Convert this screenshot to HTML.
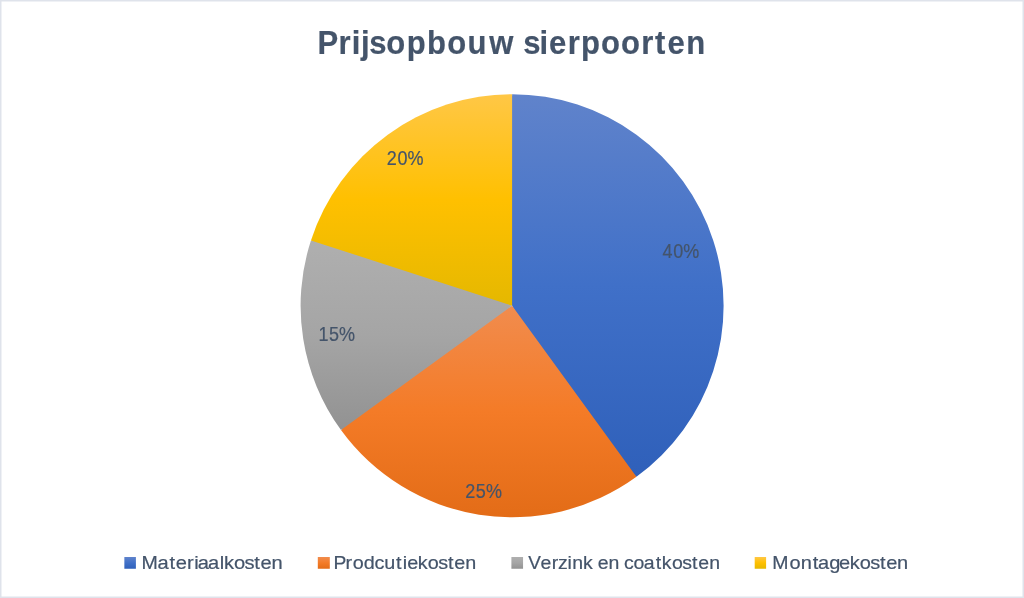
<!DOCTYPE html>
<html><head><meta charset="utf-8"><title>Prijsopbouw sierpoorten</title>
<style>
html,body{margin:0;padding:0;background:#fff;}
body{width:1024px;height:598px;overflow:hidden;position:relative;font-family:"Liberation Sans",sans-serif;}
svg{display:block;position:absolute;left:0;top:0;}
text{font-family:"Liberation Sans",sans-serif;fill:#44546a;white-space:pre;stroke:#44546a;stroke-width:0.2px;}
</style></head><body>
<svg width="1024" height="598" viewBox="0 0 1024 598">
<defs>
<linearGradient id="b" gradientUnits="userSpaceOnUse" x1="0" y1="94.2" x2="0" y2="476.9"><stop offset="0" stop-color="#6083cb"/><stop offset="0.5" stop-color="#4070c8"/><stop offset="1" stop-color="#2f60ba"/></linearGradient>
<linearGradient id="o" gradientUnits="userSpaceOnUse" x1="0" y1="305.8" x2="0" y2="517.2"><stop offset="0" stop-color="#f18c4e"/><stop offset="0.5" stop-color="#f47b27"/><stop offset="1" stop-color="#e36c17"/></linearGradient>
<linearGradient id="g" gradientUnits="userSpaceOnUse" x1="0" y1="240.4" x2="0" y2="430.1"><stop offset="0" stop-color="#afafaf"/><stop offset="0.5" stop-color="#a5a5a5"/><stop offset="1" stop-color="#929292"/></linearGradient>
<linearGradient id="y" gradientUnits="userSpaceOnUse" x1="0" y1="94.2" x2="0" y2="305.8"><stop offset="0" stop-color="#ffc746"/><stop offset="0.5" stop-color="#ffc000"/><stop offset="1" stop-color="#e5b800"/></linearGradient>
<linearGradient id="mb" x1="0" y1="0" x2="0" y2="1"><stop offset="0" stop-color="#6083cb"/><stop offset="0.5" stop-color="#4070c8"/><stop offset="1" stop-color="#2f60ba"/></linearGradient>
<linearGradient id="mo" x1="0" y1="0" x2="0" y2="1"><stop offset="0" stop-color="#f18c4e"/><stop offset="0.5" stop-color="#f47b27"/><stop offset="1" stop-color="#e36c17"/></linearGradient>
<linearGradient id="mg" x1="0" y1="0" x2="0" y2="1"><stop offset="0" stop-color="#afafaf"/><stop offset="0.5" stop-color="#a5a5a5"/><stop offset="1" stop-color="#929292"/></linearGradient>
<linearGradient id="my" x1="0" y1="0" x2="0" y2="1"><stop offset="0" stop-color="#ffc746"/><stop offset="0.5" stop-color="#ffc000"/><stop offset="1" stop-color="#e5b800"/></linearGradient>
</defs>
<rect x="0" y="0" width="1024" height="598" fill="#fff"/>
<rect x="0.75" y="0.75" width="1022.5" height="596.5" fill="none" stroke="#dfe3eb" stroke-width="1.5"/>
<path d="M512.10,305.75 L482.87,97.79 A210.0,210.0 0 0 1 512.10,95.75 L512.10,94.25 A211.5,211.5 0 0 1 636.42,476.86 L635.53,475.64 A210.0,210.0 0 0 1 610.69,491.17 Z" fill="url(#b)"/>
<path d="M512.10,305.75 L636.42,476.86 A211.5,211.5 0 0 1 340.99,430.07 L342.21,429.18 A210.0,210.0 0 0 1 326.68,404.34 Z" fill="url(#o)"/>
<path d="M512.10,305.75 L340.99,430.07 A211.5,211.5 0 0 1 310.95,240.39 L312.38,240.86 A210.0,210.0 0 0 1 323.35,213.69 Z" fill="url(#g)"/>
<path d="M512.10,305.75 L310.95,240.39 A211.5,211.5 0 0 1 512.10,94.25 Z" fill="url(#y)"/>
<text transform="translate(317.56,54.3) scale(0.9350,1)" x="0.00 22.47 36.53 46.50 55.40 73.37 95.31 117.05 138.62 160.27 183.57" y="0" font-size="33.2" font-weight="bold" stroke="#44546a" stroke-width="0.3">Prijsopbouw</text>
<text transform="translate(523.17,54.3) scale(0.9350,1)" x="0.00 17.39 27.67 47.60 61.97 83.24 104.71 126.16 141.07 154.38 174.41" y="0" font-size="33.2" font-weight="bold" stroke="#44546a" stroke-width="0.3">sierpoorten</text>
<text transform="translate(662.40,258.2) scale(0.9000,1)" x="0.00 11.94 23.09" y="0" font-size="20.0" >40%</text>
<text transform="translate(386.67,164.8) scale(0.9000,1)" x="0.00 11.98 23.13" y="0" font-size="20.0" >20%</text>
<text transform="translate(318.45,340.8) scale(0.9000,1)" x="0.00 11.65 22.94" y="0" font-size="20.0" >15%</text>
<text transform="translate(465.17,497.7) scale(0.9000,1)" x="0.00 11.84 23.13" y="0" font-size="20.0" >25%</text>
<g>
<rect x="124.35" y="557.0" width="11.55" height="11.75" fill="url(#mb)"/>
<rect x="317.8" y="557.0" width="12.0" height="11.75" fill="url(#mo)"/>
<rect x="511.4" y="557.0" width="11.65" height="11.75" fill="url(#mg)"/>
<rect x="754.7" y="557.0" width="11.4" height="11.75" fill="url(#my)"/>
</g>
<text transform="translate(141.41,568.8) scale(1.0597,1)" x="0.00 15.24 26.60 32.44 43.03 49.92 53.28 62.92 73.83 77.93 87.43 97.29 106.54 112.38 122.71" y="0" font-size="19.0" ><tspan font-size="18.5">M</tspan>ateriaalkosten</text>
<text transform="translate(333.40,568.8) scale(1.0425,1)" x="0.00 11.70 18.56 29.19 39.55 48.66 60.09 66.46 70.76 80.87 90.53 100.54 109.91 115.89 126.39" y="0" font-size="19.0" ><tspan font-size="18.5">P</tspan>rodcutiekosten</text>
<text transform="translate(528.26,568.8) scale(1.0256,1)" x="0.00 11.98 22.87 29.11 38.15 42.90 53.43 63.04 67.66 78.33 89.02 93.36 102.71 112.56 124.20 130.26 140.06 150.23 159.73 165.85 176.52" y="0" font-size="19.0" ><tspan font-size="18.5">V</tspan>erzink en coatkosten</text>
<text transform="translate(772.26,568.8) scale(1.0542,1)" x="0.00 16.41 27.12 38.32 43.39 53.96 63.42 73.42 82.97 92.88 102.16 108.05 118.44" y="0" font-size="19.0" ><tspan font-size="18.5">M</tspan>ontagekosten</text>
</svg>
</body></html>
